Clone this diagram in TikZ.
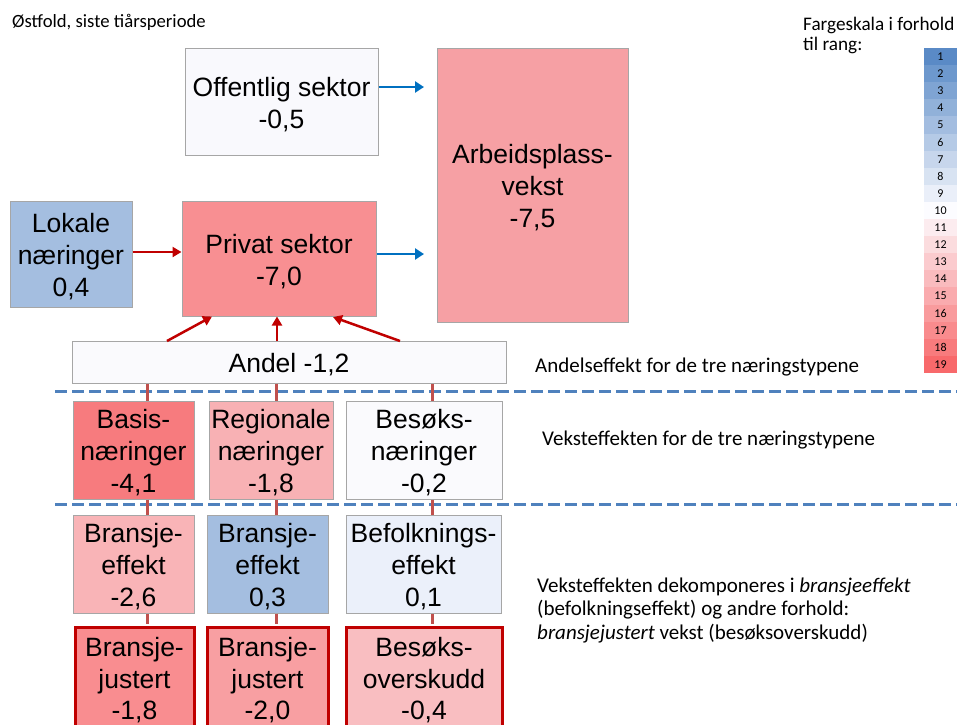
\documentclass[tikz,border=0pt]{standalone}
\usepackage{fontspec}
\setmainfont{Liberation Sans}
\newfontfamily\calfont{Carlito}
\usetikzlibrary{arrows.meta,calc}
\newcommand{\tallstrut}{\rule{0pt}{24.5pt}}
\definecolor{boxgray}{HTML}{A6A6A6}
\definecolor{darkred}{HTML}{C00000}
\definecolor{connred}{HTML}{C0504D}
\definecolor{arrblue}{HTML}{0070C0}
\definecolor{dashblue}{HTML}{4F81BD}
\definecolor{scb}{HTML}{5A8AC6}
\definecolor{scw}{HTML}{FCFCFF}
\definecolor{scr}{HTML}{F8696B}
\definecolor{offc}{HTML}{F9F9FD}
\definecolor{arbc}{HTML}{F6A0A4}
\definecolor{lokc}{HTML}{A4BEE0}
\definecolor{privc}{HTML}{F88F92}
\definecolor{andelc}{HTML}{FAFAFD}
\definecolor{basisc}{HTML}{F77B7E}
\definecolor{regc}{HTML}{F8B1B4}
\definecolor{besnc}{HTML}{FAFAFD}
\definecolor{beonec}{HTML}{F9B4B7}
\definecolor{betwoc}{HTML}{A4BEE0}
\definecolor{befc}{HTML}{EBF0FA}
\definecolor{bjonec}{HTML}{F98D90}
\definecolor{bjtwoc}{HTML}{F89FA2}
\definecolor{boc}{HTML}{F9BEC1}
\tikzset{
  box/.style={draw=boxgray, line width=1pt, inner sep=0pt, align=center,
    font=\fontsize{26.5}{32}\selectfont},
  redbox/.style={draw=darkred, line width=3pt, inner sep=0pt, align=center,
    font=\fontsize{26.5}{31.5}\selectfont},
  conn/.style={draw=connred, line width=3pt},
  redarrow/.style={draw=darkred, line width=2.5pt, -{Triangle[length=9pt,width=10pt]}},
  bluearrow/.style={draw=arrblue, line width=2.5pt, -{Triangle[length=9pt,width=11pt]}},
  dashline/.style={draw=dashblue, line width=3pt, dash pattern=on 12pt off 5pt},
  sidetext/.style={inner sep=0pt, anchor=west, align=left, font=\calfont\fontsize{21}{23.5}\selectfont},
  scell/.style={inner sep=0pt, minimum width=33pt, minimum height=17.1pt, font=\calfont\fontsize{12}{13}\selectfont},
}
\begin{document}
\begin{tikzpicture}[x=1pt,y=-1pt]
\useasboundingbox (0,0) rectangle (957,724);
\clip (0,0) rectangle (957,724);

% title and side texts
\node[inner sep=0pt, anchor=west, font=\calfont\fontsize{18.7}{22}\selectfont] (title) at (12,22) {Østfold, siste tiårsperiode};
\node[inner sep=0pt, anchor=west, align=left, font=\calfont\fontsize{19.2}{20}\selectfont] (scaletitle) at (803,35) {Fargeskala i forhold\\til rang:};
\node[sidetext] (andeltxt) at (535,367) {Andelseffekt for de tre næringstypene};
\node[sidetext] (veksttxt) at (542,440) {Veksteffekten for de tre næringstypene};
\node[sidetext] (dekomptxt) at (537,610) {Veksteffekten dekomponeres i \textit{bransjeeffekt}\\(befolkningseffekt) og andre forhold:\\\textit{bransjejustert} vekst (besøksoverskudd)};

% colour scale
\foreach \k in {1,...,19}{
  \pgfmathsetmacro\yc{48+(\k-0.5)*17.1}
  \ifnum\k<10
    \pgfmathtruncatemacro\p{100-(\k-1)*100/9}
    \colorlet{cellc}{scb!\p!scw}
  \else
    \pgfmathtruncatemacro\p{(\k-10)*100/9}
    \colorlet{cellc}{scr!\p!scw}
  \fi
  \node[scell, fill=cellc] (sc\k) at (940.5,\yc) {\k};
}

% dashed separators
\draw[dashline] (55,391) -- (957,391);
\draw[dashline] (55,504) -- (957,504);

% boxes
\node[box, fill=offc, minimum width=193pt, minimum height=107pt] (off) at (281.5,101.5) {\tallstrut Offentlig sektor\\-0,5};
\node[box, fill=arbc, minimum width=191pt, minimum height=274pt] (arb) at (532.5,185) {\tallstrut Arbeidsplass-\\vekst\\-7,5};
\node[box, fill=lokc, minimum width=122pt, minimum height=106pt] (lok) at (71,254) {\tallstrut Lokale\\næringer\\0,4};
\node[box, fill=privc, minimum width=194pt, minimum height=115pt] (priv) at (279,258.5) {\tallstrut Privat sektor\\-7,0};
\node[box, fill=andelc, minimum width=434pt, minimum height=42pt] (andel) at (289,362) {\tallstrut Andel -1,2};

\node[box, fill=basisc, minimum width=121pt, minimum height=98pt] (basis) at (133.5,450) {\tallstrut Basis-\\næringer\\-4,1};
\node[box, fill=regc, minimum width=124pt, minimum height=98pt] (reg) at (271,450) {\tallstrut Regionale\\næringer\\-1,8};
\node[box, fill=besnc, minimum width=156pt, minimum height=98pt] (besn) at (424,450) {\tallstrut Besøks-\\næringer\\-0,2};

\node[box, fill=beonec, minimum width=121pt, minimum height=98pt] (beone) at (133.5,564) {\tallstrut Bransje-\\effekt\\-2,6};
\node[box, fill=betwoc, minimum width=121pt, minimum height=98pt] (betwo) at (267.5,564) {\tallstrut Bransje-\\effekt\\0,3};
\node[box, fill=befc, minimum width=155pt, minimum height=98pt] (bef) at (423.5,564) {\tallstrut Befolknings-\\effekt\\0,1};

\node[redbox, fill=bjonec, minimum width=119pt, minimum height=101pt] (bjone) at (134.5,677.5) {\tallstrut Bransje-\\justert\\-1,8};
\node[redbox, fill=bjtwoc, minimum width=121pt, minimum height=101pt] (bjtwo) at (267.5,677.5) {\tallstrut Bransje-\\justert\\-2,0};
\node[redbox, fill=boc, minimum width=156pt, minimum height=101pt] (bo) at (424,677.5) {\tallstrut Besøks-\\overskudd\\-0,4};

% vertical connectors
\coordinate (cone) at (147,0);
\coordinate (ctwo) at (276,0);
\coordinate (cthree) at (432,0);
\draw[conn] (andel.south -| cone) -- (basis.north -| cone);
\draw[conn] (andel.south -| ctwo) -- (reg.north -| ctwo);
\draw[conn] (andel.south -| cthree) -- (besn.north -| cthree);
\draw[conn] (basis.south -| cone) -- (beone.north -| cone);
\draw[conn] (reg.south -| ctwo) -- (betwo.north -| ctwo);
\draw[conn] (besn.south -| cthree) -- (bef.north -| cthree);
\draw[conn] (beone.south -| cone) -- ([yshift=1.5pt]bjone.north -| cone);
\draw[conn] (betwo.south -| ctwo) -- ([yshift=1.5pt]bjtwo.north -| ctwo);
\draw[conn] (bef.south -| cthree) -- ([yshift=1.5pt]bo.north -| cthree);

% arrows from Andel to Privat sektor
\coordinate (aone) at (167,341);
\coordinate (atwo) at (277,341);
\coordinate (athree) at (400,341);
\coordinate (pone) at (212,316.5);
\coordinate (ptwo) at (277,316.5);
\coordinate (pthree) at (333,317);
\draw[redarrow] (aone) -- (pone);
\draw[redarrow] (atwo) -- (ptwo);
\draw[redarrow] (athree) -- (pthree);

% Lokale -> Privat
\draw[redarrow] ([yshift=2pt]lok.east) -- ([yshift=2pt]lok.east -| priv.west);

% blue arrows to Arbeidsplassvekst
\coordinate (oa) at (424,87);
\coordinate (pa) at (424,254);
\draw[bluearrow] (oa -| off.east) -- (oa);
\draw[bluearrow] (pa -| priv.east) -- (pa);
\end{tikzpicture}
\end{document}
